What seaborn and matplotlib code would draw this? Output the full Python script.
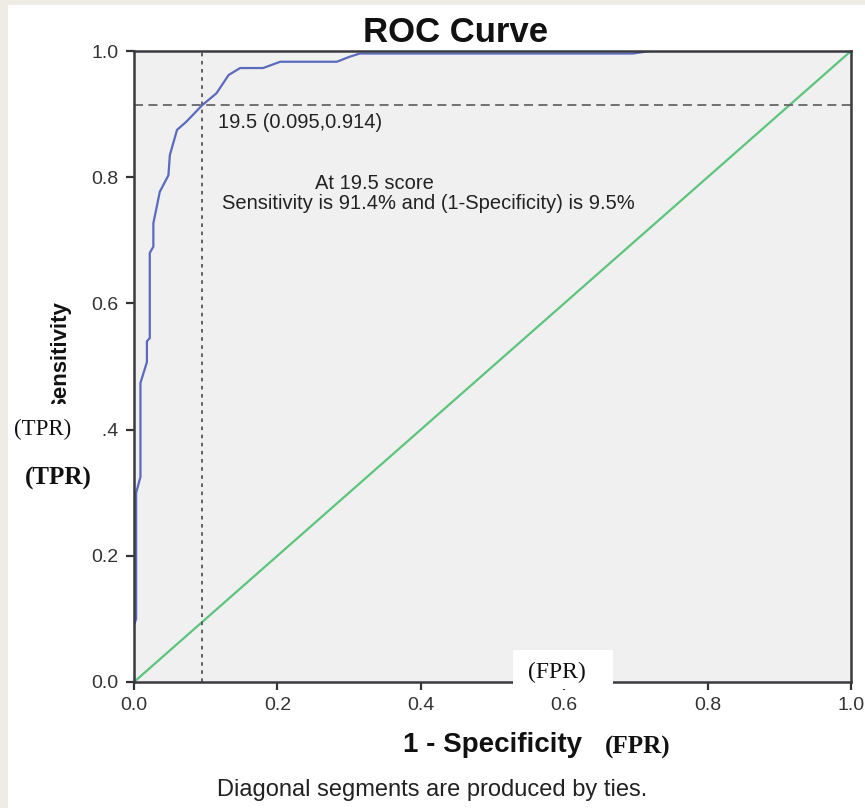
import numpy as np
import pandas as pd
import matplotlib.pyplot as plt
import seaborn as sns
from matplotlib.patches import Rectangle
from matplotlib.transforms import Bbox, TransformedBbox

# ROC curve points
fpr = [0.0, 0.0, 0.003, 0.003, 0.009, 0.009, 0.018, 0.018, 0.022, 0.022, 0.027, 0.027,
       0.036, 0.048, 0.050, 0.060, 0.073, 0.095, 0.115, 0.132, 0.148, 0.180, 0.204,
       0.283, 0.301, 0.315, 0.696, 0.720, 1.0]
tpr = [0.0, 0.09, 0.10, 0.30, 0.325, 0.474, 0.507, 0.540, 0.545, 0.680, 0.690, 0.727,
       0.777, 0.803, 0.835, 0.875, 0.888, 0.914, 0.933, 0.962, 0.973, 0.973, 0.983,
       0.983, 0.991, 0.996, 0.996, 1.0, 1.0]
ref_line = [0.0, 1.0]

cut_score = 19.5
cut_fpr = 0.095
cut_tpr = 0.914

x_ticks = [0.0, 0.2, 0.4, 0.6, 0.8, 1.0]
y_ticks = [0.0, 0.2, 0.4, 0.6, 0.8, 1.0]

sns.set_theme(style="white")
plt.rcParams['font.family'] = ['Liberation Sans', 'DejaVu Sans']

roc_df = pd.DataFrame({'fpr': fpr, 'tpr': tpr})
ref_df = pd.DataFrame({'x': ref_line, 'y': ref_line})

W, H = 865, 808
fig = plt.figure(figsize=(W / 100, H / 100), dpi=100)
fig.patch.set_facecolor('white')
# beige frame on the left and top edges
fig.patches.append(Rectangle((0, 0), 8 / W, 1, transform=fig.transFigure,
                             facecolor='#efece5', edgecolor='none', zorder=0))
fig.patches.append(Rectangle((0, 1 - 5 / H), 1, 5 / H, transform=fig.transFigure,
                             facecolor='#efece5', edgecolor='none', zorder=0))

ax = fig.add_axes([134 / W, 1 - 682 / H, 717 / W, 631 / H])
ax.set_facecolor('#f0f0f0')

sns.lineplot(data=ref_df, x='x', y='y', ax=ax, color='#5cc47b', lw=1.6, sort=False)
ax.axvline(cut_fpr, color='#555555', lw=1.3, ls=(0, (2, 2.5)))
ax.axhline(cut_tpr, color='#666666', lw=1.3, ls=(0, (5, 3)))
sns.lineplot(data=roc_df, x='fpr', y='tpr', ax=ax, color='#5a6abf', lw=1.6,
             sort=False, estimator=None)

ax.set_xlim(0, 1)
ax.set_ylim(0, 1)
ax.set_xticks(x_ticks)
ax.set_yticks(y_ticks)
ax.set_xticklabels([f'{t:.1f}' for t in x_ticks], fontsize=14, color='#333333')
ax.set_yticklabels([f'{t:.1f}' for t in y_ticks], fontsize=14, color='#333333')
ax.tick_params(axis='both', direction='out', length=6, width=1.6, color='#333333',
               bottom=True, left=True, pad=5)
ax.set_xlabel('')
ax.set_ylabel('')
for side in ['left', 'bottom', 'top', 'right']:
    ax.spines[side].set_color('#3a3a40')
    ax.spines[side].set_linewidth(1.8)

ax.text(0.117, cut_tpr - 0.028, f'{cut_score} ({cut_fpr},{cut_tpr})',
        fontsize=14.5, color='#222222', va='center', ha='left')
ax.text(0.335, (682 - 189) / 631, 'At 19.5 score', fontsize=14.5, color='#222222',
        ha='center', va='baseline')
ax.text(0.411, (682 - 209) / 631, 'Sensitivity is 91.4% and (1-Specificity) is 9.5%',
        fontsize=14.5, color='#222222', ha='center', va='baseline')

fig.text(456 / W, 1 - 32 / H, 'ROC Curve', fontsize=25, fontweight='bold',
         ha='center', va='center', color='#111111')
fig.text(492 / W, 1 - 745 / H, '1 - Specificity', fontsize=20, fontweight='bold',
         ha='center', va='center', color='#111111')
fig.text(432 / W, 1 - 790 / H, 'Diagonal segments are produced by ties.',
         fontsize=17, ha='center', va='center', color='#222222')

# y label, its lower part is hidden under the pasted (TPR) box
ylab = fig.text(61 / W, 1 - 357 / H, 'Sensitivity', fontsize=16, fontweight='bold',
                rotation=90, ha='center', va='center', color='#111111')
ylab.set_clip_box(TransformedBbox(Bbox([[0, 1 - 404 / H], [1, 1]]), fig.transFigure))
ylab.set_clip_on(True)

# pasted-over labels
fig.patches.append(Rectangle((8 / W, 1 - 455 / H), 94.5 / W, 50 / H,
                             transform=fig.transFigure, facecolor='white',
                             edgecolor='none', zorder=5))
fig.text(43 / W, 1 - 429 / H, '(TPR)', fontsize=16.5, family='Liberation Serif',
         ha='center', va='center', color='#111111', zorder=6)
fig.text(58 / W, 1 - 478 / H, '(TPR)', fontsize=18, fontweight='bold',
         family='Liberation Serif', ha='center', va='center', color='#111111', zorder=6)
fig.patches.append(Rectangle((513 / W, 1 - 689 / H), 100 / W, 39 / H,
                             transform=fig.transFigure, facecolor='white',
                             edgecolor='none', zorder=5))
fig.text(557 / W, 1 - 672 / H, '(FPR)', fontsize=17, family='Liberation Serif',
         ha='center', va='center', color='#111111', zorder=6)
fig.text(638 / W, 1 - 747 / H, '(FPR)', fontsize=18, fontweight='bold',
         family='Liberation Serif', ha='center', va='center', color='#111111', zorder=6)

fig.savefig('out.png', dpi=100)
